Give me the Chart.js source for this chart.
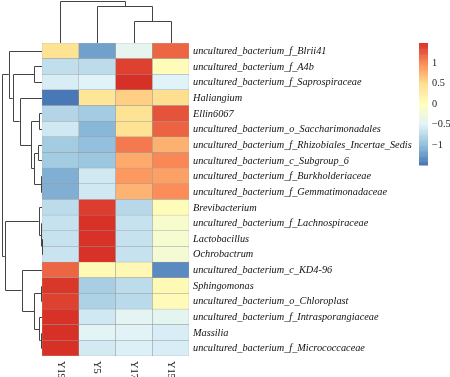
<!DOCTYPE html>
<html><head><meta charset="utf-8">
<script src="https://cdn.jsdelivr.net/npm/chart.js@4/dist/chart.umd.min.js"></script>
<style>html,body{margin:0;padding:0;background:#fff}#wrap{width:450px;height:377px;position:relative}</style>
</head><body><div id="wrap"><canvas id="c" width="450" height="377"></canvas></div>
<script>
const rowLabels = [
  'uncultured_bacterium_f_Blrii41','uncultured_bacterium_f_A4b','uncultured_bacterium_f_Saprospiraceae',
  'Haliangium','Ellin6067','uncultured_bacterium_o_Saccharimonadales',
  'uncultured_bacterium_f_Rhizobiales_Incertae_Sedis','uncultured_bacterium_c_Subgroup_6',
  'uncultured_bacterium_f_Burkholderiaceae','uncultured_bacterium_f_Gemmatimonadaceae',
  'Brevibacterium','uncultured_bacterium_f_Lachnospiraceae','Lactobacillus','Ochrobactrum',
  'uncultured_bacterium_c_KD4-96','Sphingomonas','uncultured_bacterium_o_Chloroplast',
  'uncultured_bacterium_f_Intrasporangiaceae','Massilia','uncultured_bacterium_f_Micrococcaceae'
];
const colLabels = ['Y19','Y5','Y17','Y15'];
const y19 = [0.45,-0.70,-0.55,-1.47,-0.78,-0.60,-0.88,-0.88,-1.10,-1.10,-0.72,-0.66,-0.66,-0.64,1.20,1.45,1.40,1.48,1.49,1.49];
const y5  = [-1.20,-0.72,-0.50,0.40,-0.88,-1.05,-0.98,-0.92,-0.60,-0.60,1.42,1.48,1.48,1.48,0.10,-0.85,-0.82,-0.60,-0.47,-0.58];
const y17 = [-0.40,1.40,1.49,0.60,0.45,0.45,1.10,0.82,0.92,0.76,-0.75,-0.66,-0.66,-0.66,0.12,-0.72,-0.74,-0.45,-0.48,-0.52];
const y15 = [1.20,0.05,-0.50,0.50,1.30,1.22,0.78,1.02,0.88,1.00,0.05,-0.12,-0.15,-0.18,-1.35,0.10,0.08,-0.43,-0.55,-0.55];
const colorTicks = [1, 0.5, 0, -0.5, -1];
const colorRange = [-1.49, 1.49];
// hclust-style merges: negative = leaf (-(index+1)), positive = earlier merge number; third entry = height
const rowMerges = [
  [-13,-14,0.012],[-12,1,0.025],[-9,-10,0.025],[-16,-17,0.025],[-19,-20,0.03],
  [-5,-6,0.07],[-11,2,0.08],[-18,5,0.07],[-7,-8,0.1],[9,3,0.2],
  [-2,-3,0.2],[4,8,0.2],[6,10,0.27],[-15,12,0.51],[-4,13,0.56],
  [11,15,0.73],[-1,16,0.83],[7,14,0.93],[17,18,1.0]
];
const colMerges = [[-3,-4,0.52],[-2,1,0.88],[-1,2,1.0]];

const palette = ['#4575B4','#91BFDB','#E0F3F8','#FFFFBF','#FEE090','#FC8D59','#D73027'];
function hex(h){return [parseInt(h.substr(1,2),16),parseInt(h.substr(3,2),16),parseInt(h.substr(5,2),16)];}
const palRGB = palette.map(hex);
function colorOf(v){
  let t = (v - colorRange[0])/(colorRange[1]-colorRange[0]);
  t = Math.max(0, Math.min(1, t));
  const p = t*(palRGB.length-1);
  const i = Math.min(Math.floor(p), palRGB.length-2);
  const f = p - i;
  const a = palRGB[i], b = palRGB[i+1];
  return 'rgb('+a.map((c,k)=>Math.round(c+(b[k]-c)*f)).join(',')+')';
}
const colValues = [y19, y5, y17, y15];

function treeLayout(merges, leafPos){
  const pos = [], ht = [];
  const info = c => c < 0 ? [leafPos(-c-1), 0] : [pos[c-1], ht[c-1]];
  const segs = [];
  merges.forEach((m, k) => {
    const a = info(m[0]), b = info(m[1]);
    pos[k] = (a[0]+b[0])/2; ht[k] = m[2];
    segs.push([a, b, m[2]]);
  });
  return segs;
}

const extras = {
  id: 'extras',
  afterDraw(chart){
    const ctx = chart.ctx, ca = chart.chartArea;
    const xs = chart.scales.x, ys = chart.scales.y;
    const px = v => Math.round(v) + 0.5;
    ctx.save();
    ctx.strokeStyle = '#444'; ctx.lineWidth = 1;
    // row dendrogram
    const rowW = ca.left - 2;
    treeLayout(rowMerges, i => ys.getPixelForValue(i)).forEach(([a,b,h]) => {
      const xh = ca.left - h*rowW;
      ctx.beginPath();
      ctx.moveTo(ca.left - a[1]*rowW, px(a[0])); ctx.lineTo(px(xh), px(a[0]));
      ctx.lineTo(px(xh), px(b[0])); ctx.lineTo(ca.left - b[1]*rowW, px(b[0]));
      ctx.stroke();
    });
    // column dendrogram
    const colH = ca.top - 1;
    treeLayout(colMerges, i => xs.getPixelForValue(i+0.5)).forEach(([a,b,h]) => {
      const yh = ca.top - h*colH;
      ctx.beginPath();
      ctx.moveTo(px(a[0]), ca.top - a[1]*colH); ctx.lineTo(px(a[0]), px(yh));
      ctx.lineTo(px(b[0]), px(yh)); ctx.lineTo(px(b[0]), ca.top - b[1]*colH);
      ctx.stroke();
    });
    // row labels
    ctx.fillStyle = '#111';
    ctx.font = 'italic 10.3px "Liberation Serif"';
    ctx.textAlign = 'left'; ctx.textBaseline = 'middle';
    rowLabels.forEach((l, i) => {
      ctx.fillText(l, ca.right + 4, ys.getPixelForValue(i) + 0.5);
    });
    // column labels (rotated, reading top to bottom)
    ctx.font = '10.3px "Liberation Serif"';
    colLabels.forEach((l, i) => {
      ctx.save();
      ctx.translate(xs.getPixelForValue(i+0.5), ca.bottom + 5);
      ctx.rotate(Math.PI/2);
      ctx.fillText(l, 0, 0);
      ctx.restore();
    });
    // colour legend
    const bx = 419, bw = 9, bTop = 43, bBot = 165;
    const n = 100;
    for (let k = 0; k < n; k++){
      const v = colorRange[0] + (k+0.5)/n*(colorRange[1]-colorRange[0]);
      const y0 = bBot - (k+1)/n*(bBot-bTop), y1 = bBot - k/n*(bBot-bTop);
      ctx.fillStyle = colorOf(v);
      ctx.fillRect(bx, y0, bw, y1-y0+0.5);
    }
    ctx.fillStyle = '#222';
    ctx.font = '10.3px "Liberation Serif"';
    colorTicks.forEach(t => {
      const y = bTop + (colorRange[1]-t)/(colorRange[1]-colorRange[0])*(bBot-bTop);
      ctx.fillText(String(t).replace('-', '\u2212'), bx + bw + 4, y);
    });
    ctx.restore();
  }
};

new Chart(document.getElementById('c'), {
  type: 'bar',
  data: {
    labels: rowLabels,
    datasets: colLabels.map((name, i) => ({
      label: name,
      data: rowLabels.map(() => 1),
      backgroundColor: colValues[i].map(colorOf),
      borderColor: 'rgba(150,150,150,0.9)',
      borderWidth: 0.5,
      borderSkipped: false,
      barPercentage: 1,
      categoryPercentage: 1
    }))
  },
  options: {
    responsive: false,
    animation: false,
    indexAxis: 'y',
    layout: { padding: { left: 42, top: 43, bottom: 21, right: 0 } },
    plugins: { legend: { display: false }, tooltip: { enabled: false } },
    scales: {
      x: { type: 'linear', stacked: true, min: 0, max: 4, display: false },
      y: {
        stacked: true, position: 'right',
        grid: { display: false }, border: { display: false },
        ticks: { display: false },
        afterFit(s){ s.width = 261; }
      }
    }
  },
  plugins: [extras]
});
</script></body></html>
